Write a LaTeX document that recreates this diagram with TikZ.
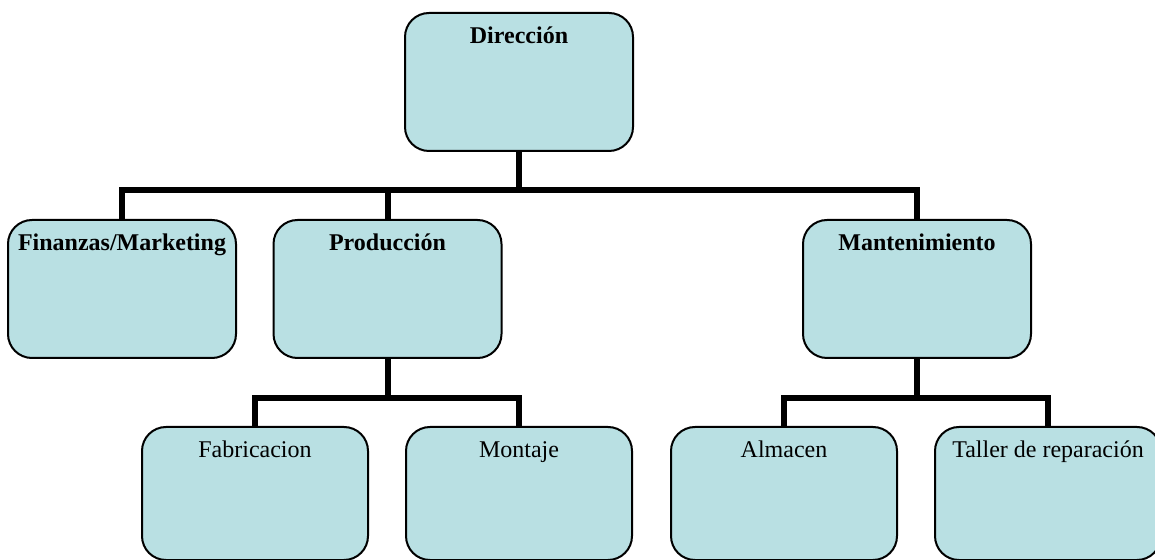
\documentclass[tikz,border=0pt]{standalone}
\usepackage{fontspec}
\setmainfont{Liberation Serif}
\usepackage{tikz}
\usetikzlibrary{positioning,calc}
\definecolor{boxfill}{HTML}{B9E0E3}
\tikzset{
  orgbox/.style={draw=black,line width=1pt,fill=boxfill,rounded corners=12pt,
    minimum width=114pt,inner xsep=0pt,inner ysep=4pt,
    text height=11.5pt,text depth=49.5pt,anchor=north},
  orghead/.style={orgbox,font=\fontsize{12}{14}\selectfont\bfseries},
  orgleaf/.style={orgbox,minimum width=113pt,text depth=47pt,
    font=\fontsize{12}{14}\selectfont},
  orgline/.style={line width=3pt}
}
\begin{document}
\begin{tikzpicture}[x=0.5pt,y=-0.5pt]
  \useasboundingbox (0,0) rectangle (1155,560);
  \clip (0,0) rectangle (1155,560);
  \node[orghead] (dir) at (519,12) {Dirección};
  \node[orghead] (fin) at (122,219) {Finanzas/Marketing};
  \node[orghead] (prod) at (387.5,219) {Producción};
  \node[orghead] (mant) at (917,219) {Mantenimiento};
  \node[orgleaf] (fab) at (255,426) {Fabricacion};
  \node[orgleaf] (mon) at (519,426) {Montaje};
  \node[orgleaf] (alm) at (784,426) {Almacen};
  \node[orgleaf] (tal) at (1048,426) {Taller de reparación};

  \coordinate (top bar) at (dir.south |- 0,190);
  \coordinate (prod bar) at (prod.south |- 0,398);
  \coordinate (mant bar) at (mant.south |- 0,398);

  \draw[orgline] (dir.south) -- (top bar);
  \draw[orgline] (fin.north) |- (top bar) -| (mant.north);
  \draw[orgline] (prod.north) -- (prod.north |- top bar);
  \draw[orgline] (prod.south) -- (prod bar);
  \draw[orgline] (fab.north) |- (prod bar) -| (mon.north);
  \draw[orgline] (mant.south) -- (mant bar);
  \draw[orgline] (alm.north) |- (mant bar) -| (tal.north);
\end{tikzpicture}
\end{document}
